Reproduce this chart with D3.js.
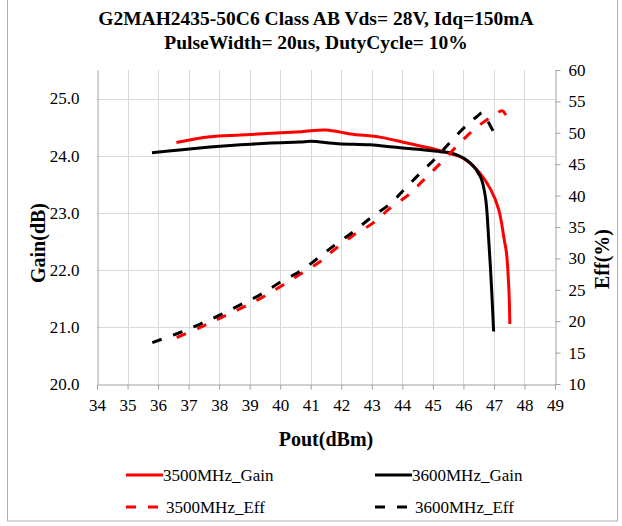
<!DOCTYPE html>
<html lang="en">
<head>
<meta charset="UTF-8">
<title>G2MAH2435-50C6 Gain and Efficiency</title>
<script src="https://d3js.org/d3.v7.min.js"></script>
<style>
  body { margin: 0; background: #fff; }
  svg text { font-family: Liberation Serif, serif; fill: #000; }
</style>
</head>
<body>
<svg id="chart" width="622" height="526" font-family="Liberation Serif"></svg>
<script>
// values
const pout3500Gain = [36.6, 37.7, 38.7, 39.7, 40.7, 41.5, 42.3, 43.3, 44.15, 45.0, 45.6, 45.9, 46.45, 46.9, 47.16, 47.34, 47.41, 47.49, 47.52];
const gain3500     = [24.23, 24.33, 24.36, 24.39, 24.42, 24.45, 24.38, 24.32, 24.22, 24.12, 24.03, 23.98, 23.75, 23.40, 23.05, 22.52, 22.3, 21.65, 21.05];

const pout3600Gain = [35.8, 36.7, 37.7, 38.7, 39.7, 40.66, 41.0, 41.9, 42.95, 43.7, 44.5, 45.25, 45.7, 46.23, 46.56, 46.72, 46.83, 46.92, 46.99];
const gain3600     = [24.05, 24.1, 24.15, 24.19, 24.22, 24.24, 24.25, 24.21, 24.19, 24.15, 24.11, 24.07, 24.03, 23.87, 23.63, 23.28, 22.52, 21.7, 20.92];

const pout3500Eff = [36.61, 37.38, 38.03, 38.69, 39.34, 40.0, 40.66, 41.31, 41.75, 42.4, 43.06, 43.6, 44.2, 44.7, 45.3, 45.85, 46.39, 46.9, 47.0, 47.28, 47.47];
const eff3500     = [17.4, 19.0, 20.5, 22.0, 23.6, 25.5, 27.5, 29.5, 31.3, 33.7, 35.7, 38.0, 40.1, 42.5, 45.4, 48.2, 50.7, 52.5, 52.8, 53.5, 51.8];

const pout3600Eff = [35.81, 36.72, 37.38, 38.03, 38.69, 39.34, 40.0, 40.66, 41.2, 41.75, 42.4, 42.95, 43.6, 44.05, 44.53, 45.08, 45.63, 46.17, 46.45, 46.62, 46.78, 46.97];
const eff3600     = [16.6, 18.2, 19.55, 21.0, 22.6, 24.2, 26.2, 28.0, 29.9, 32.0, 34.25, 36.4, 38.7, 40.9, 43.3, 45.9, 48.85, 51.5, 52.6, 53.2, 52.0, 50.3];

const xTicks    = d3.range(34, 50, 1);
const gainTicks = [20, 21, 22, 23, 24, 25];
const effTicks  = d3.range(10, 61, 5);

const titleLines = ["G2MAH2435-50C6 Class AB Vds= 28V, Idq=150mA", "PulseWidth= 20us, DutyCycle= 10%"];

const series = [
  { name: "3500MHz_Gain", px: pout3500Gain, py: gain3500, axis: "gain", color: "#ff0000", dash: null },
  { name: "3600MHz_Gain", px: pout3600Gain, py: gain3600, axis: "gain", color: "#000000", dash: null },
  { name: "3500MHz_Eff",  px: pout3500Eff,  py: eff3500,  axis: "eff",  color: "#ff0000", dash: "10,12" },
  { name: "3600MHz_Eff",  px: pout3600Eff,  py: eff3600,  axis: "eff",  color: "#000000", dash: "10,12" }
];

const serif = "Liberation Serif";
const svg = d3.select("#chart");
const plotLeft = 97, plotRight = 555, plotTop = 70, plotBottom = 384;

const x = d3.scaleLinear().domain([34, 49]).range([plotLeft, plotRight]);
const yGain = d3.scaleLinear().domain([20, 25.5]).range([plotBottom, plotTop]);
const yEff = d3.scaleLinear().domain([10, 60]).range([plotBottom, plotTop]);

// outer frame
svg.append("rect")
  .attr("x", 7.5).attr("y", -2).attr("width", 610).attr("height", 523)
  .attr("fill", "none").attr("stroke", "#b0b0b0");

// title
svg.selectAll("text.title").data(titleLines).join("text")
  .attr("class", "title")
  .attr("x", 316).attr("y", (d, i) => 25 + i * 24)
  .attr("text-anchor", "middle")
  .attr("font-family", serif)
  .style("font-size", "19.5px").style("font-weight", "bold")
  .text(d => d);

// gridlines
svg.append("g").selectAll("line").data(gainTicks.slice(1)).join("line")
  .attr("x1", plotLeft).attr("x2", plotRight)
  .attr("y1", d => Math.round(yGain(d)) + 0.5).attr("y2", d => Math.round(yGain(d)) + 0.5)
  .attr("stroke", "#d9d9d9");
svg.append("g").selectAll("line").data(xTicks.slice(1, -1)).join("line")
  .attr("y1", plotTop).attr("y2", plotBottom)
  .attr("x1", d => Math.round(x(d)) + 0.5).attr("x2", d => Math.round(x(d)) + 0.5)
  .attr("stroke", "#d9d9d9");

// axes
const xAxis = svg.append("g")
  .attr("transform", `translate(0,${plotBottom + 0.5})`)
  .call(d3.axisBottom(x).tickValues(xTicks).tickSize(5).tickSizeOuter(0).tickPadding(9));
const gAxis = svg.append("g")
  .attr("transform", `translate(${plotLeft + 0.5},0)`)
  .call(d3.axisLeft(yGain).tickValues(gainTicks).tickFormat(d3.format(".1f")).tickSize(0).tickSizeOuter(0).tickPadding(18));
const eAxis = svg.append("g")
  .attr("transform", `translate(${plotRight + 0.5},0)`)
  .call(d3.axisRight(yEff).tickValues(effTicks).tickSize(5).tickSizeOuter(0).tickPadding(8));

[xAxis, gAxis, eAxis].forEach(a => {
  a.attr("font-family", serif).attr("font-size", 17);
  a.select(".domain").attr("stroke", "#a0a0a0");
  a.selectAll(".tick line").attr("stroke", "#a0a0a0");
  a.selectAll(".tick text").attr("fill", "#333");
});

// axis titles
svg.append("text").attr("x", 326).attr("y", 446).attr("text-anchor", "middle")
  .attr("font-family", serif)
  .style("font-size", "20px").style("font-weight", "bold").text("Pout(dBm)");
svg.append("text").attr("transform", "translate(45,243) rotate(-90)").attr("text-anchor", "middle")
  .attr("font-family", serif)
  .style("font-size", "20px").style("font-weight", "bold").text("Gain(dB)");
svg.append("text").attr("transform", "translate(609,259) rotate(-90)").attr("text-anchor", "middle")
  .attr("font-family", serif)
  .style("font-size", "20px").style("font-weight", "bold").text("Eff(%)");

// lines
const plot = svg.append("g");
series.forEach(s => {
  const yS = s.axis === "gain" ? yGain : yEff;
  const pts = s.px.map((v, i) => [v, s.py[i]]);
  const line = d3.line().x(d => x(d[0])).y(d => yS(d[1])).curve(d3.curveCatmullRom.alpha(0.5));
  plot.append("path").datum(pts)
    .attr("d", line)
    .attr("fill", "none")
    .attr("stroke", s.color)
    .attr("stroke-width", 3)
    .attr("stroke-dasharray", s.dash);
});

// legend
const legendPos = [[126, 475], [375, 475], [126, 507], [375, 507]];
series.forEach((s, i) => {
  const [lx, ly] = legendPos[i];
  const g = svg.append("g").attr("transform", `translate(${lx},${ly})`);
  g.append("line").attr("x1", 0).attr("x2", 37).attr("y1", 0).attr("y2", 0)
    .attr("stroke", s.color).attr("stroke-width", 3)
    .attr("stroke-dasharray", s.dash);
  g.append("text").attr("x", s.dash ? 40 : 37).attr("y", 6)
    .attr("font-family", serif)
    .style("font-size", "17px").text(s.name);
});
</script>
</body>
</html>
